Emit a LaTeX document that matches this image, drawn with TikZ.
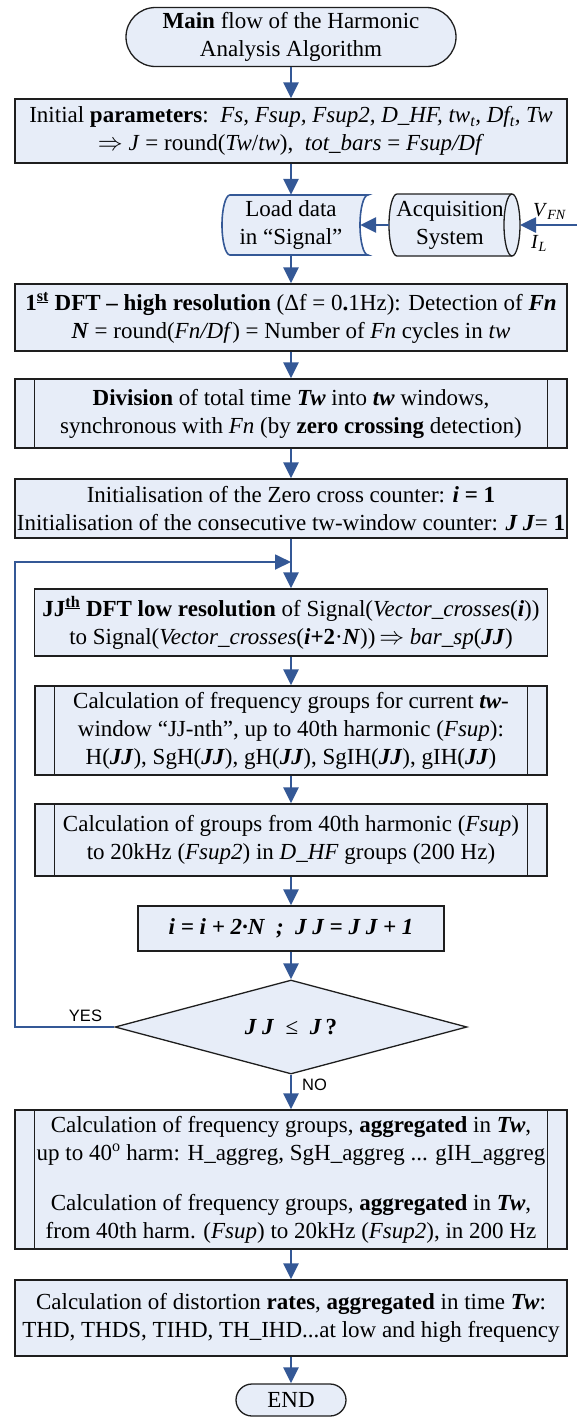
\documentclass[tikz,border=0pt]{standalone}
\usepackage{fontspec}
\setmainfont{Liberation Serif}
\newfontfamily\lsans{Liberation Sans}
\usetikzlibrary{arrows.meta,shapes.geometric}
\definecolor{boxfill}{RGB}{231,237,248}
\definecolor{arrblue}{RGB}{52,88,150}
\definecolor{boxline}{RGB}{30,30,30}
\begin{document}
\begin{tikzpicture}[x=1pt,y=1pt,
  txt/.style={font=\fontsize{23}{28}\selectfont, align=center, inner sep=0pt},
  box/.style={txt, draw=boxline, line width=1.3pt, fill=boxfill},
  arr/.style={draw=arrblue, line width=2.6pt, -{Triangle[length=16pt,width=15pt]}},
  loopline/.style={draw=arrblue, line width=1.8pt, -{Triangle[length=16pt,width=15pt]}},
  lbl/.style={font=\lsans\fontsize{16.5}{18}\selectfont, inner sep=0pt},
  side/.style={font=\fontsize{20}{22}\selectfont, inner sep=0pt}
]
\useasboundingbox (0,0) rectangle (577,-1417);

% shapes drawn by hand
\draw[draw=arrblue,line width=1.6pt,fill=boxfill] (230,-195) -- (368,-195)
  arc[start angle=90,end angle=270,x radius=8,y radius=30] -- (230,-255)
  arc[start angle=270,end angle=90,x radius=8,y radius=30] -- cycle;
\draw[draw=boxline,line width=1.3pt,fill=boxfill] (397,-194) -- (512,-194)
  arc[start angle=90,end angle=-90,x radius=8,y radius=31] -- (397,-256)
  arc[start angle=270,end angle=90,x radius=8,y radius=31] -- cycle;
\draw[draw=boxline,line width=1.3pt] (512,-194) arc[start angle=90,end angle=270,x radius=8,y radius=31];

% nodes
\node[box, rounded corners=29.5pt, minimum width=330pt, minimum height=59pt] (term) at (291,-37)
  {\textbf{Main} flow of the Harmonic\\ Analysis Algorithm};
\node[box, minimum width=552pt, minimum height=64pt] (init) at (291,-131)
  {Initial \textbf{parameters}:\ \ \textit{Fs, Fsup, Fsup2, D\_HF, tw\textsubscript{t}, Df\textsubscript{t}, Tw}\\
   $\Rightarrow$ \textit{J} = round(\textit{Tw}/\textit{tw}),\ \ \textit{tot\_bars} = \textit{Fsup/Df}};
\node[txt, minimum width=138pt, minimum height=60pt] (load) at (291,-225) {Load data\\ in “Signal”};
\node[txt, minimum width=122pt, minimum height=62pt] (acq) at (450,-225) {Acquisition\\ System};
\coordinate (inp) at (577,-225);
\coordinate (acqR) at (520,-225);
\node[side, anchor=base west] (vfn) at (533,-216) {\textit{V}\textsubscript{\textit{FN}}};
\node[side, anchor=base west] (il) at (531,-248) {\textit{I}\textsubscript{\textit{L}}};

\node[box, minimum width=552pt, minimum height=67pt] (dft1) at (291,-317.5)
  {\textbf{1\textsuperscript{\underline{st}} DFT – high resolution} (Δf = 0\textbf{.}1Hz): Detection of \textbf{\textit{Fn}}\\
   \textbf{\textit{N}} = round(\textit{Fn/Df}) = Number of \textit{Fn} cycles in \textit{tw}};
\node[box, minimum width=552pt, minimum height=69pt] (div) at (291,-413.5)
  {\textbf{Division} of total time \textbf{\textit{Tw}} into \textbf{\textit{tw}} windows,\\
   synchronous with \textit{Fn} (by \textbf{zero crossing} detection)};
\node[box, minimum width=552pt, minimum height=59pt] (initc) at (291,-508.5)
  {Initialisation of the Zero cross counter: \textbf{\textit{i} = 1}\\
   Initialisation of the consecutive tw-window counter: \textbf{\textit{J J}}= \textbf{1}};
\coordinate (jn) at (291,-562);
\node[box, minimum width=513pt, minimum height=67pt] (jj) at (291,-622.5)
  {\textbf{JJ\textsuperscript{\underline{th}} DFT low resolution} of Signal(\textit{Vector\_crosses}(\textbf{\textit{i}}))\\
   to Signal(\textit{Vector\_crosses}(\textbf{\textit{i}+2}·\textbf{\textit{N}}))\,$\Rightarrow$ \textit{bar\_sp}(\textbf{\textit{JJ}})};
\node[box, minimum width=512pt, minimum height=89pt] (calcf) at (291,-730.5)
  {Calculation of frequency groups for current \textbf{\textit{tw}}-\\
   window “JJ-nth”, up to 40th harmonic (\textit{Fsup}):\\
   H(\textbf{\textit{JJ}}), SgH(\textbf{\textit{JJ}}), gH(\textbf{\textit{JJ}}), SgIH(\textbf{\textit{JJ}}), gIH(\textbf{\textit{JJ}})};
\node[box, minimum width=512pt, minimum height=72pt] (calcg) at (291,-840)
  {Calculation of groups from 40th harmonic (\textit{Fsup})\\
   to 20kHz (\textit{Fsup2}) in \textit{D\_HF} groups (200 Hz)};
\node[box, minimum width=306pt, minimum height=45pt] (incr) at (291,-928.5)
  {\textbf{\textit{i = i + 2·N\ \ ;\ \ J J = J J + 1}}};
\node[box, shape=diamond, aspect=3.75, minimum width=352pt, minimum height=94pt] (dec) at (291,-1027)
  {\textbf{\textit{J J}}\ \ ≤\ \ \textbf{\textit{J}}\,\textbf{?}};
\node[box, minimum width=552pt, minimum height=139pt] (agg) at (291,-1179.5)
  {Calculation of frequency groups, \textbf{aggregated} in \textbf{\textit{Tw}},\\
   up to 40\textsuperscript{o} harm: H\_aggreg, SgH\_aggreg ... gIH\_aggreg\\[22pt]
   Calculation of frequency groups, \textbf{aggregated} in \textbf{\textit{Tw}},\\
   from 40th harm. (\textit{Fsup}) to 20kHz (\textit{Fsup2}), in 200 Hz};
\node[box, minimum width=552pt, minimum height=76pt] (dist) at (291,-1318)
  {Calculation of distortion \textbf{rates}, \textbf{aggregated} in time \textbf{\textit{Tw}}:\\
   THD, THDS, TIHD, TH\_IHD...at low and high frequency};
\node[box, rounded corners=16pt, minimum width=110pt, minimum height=32pt] (endn) at (291,-1400) {END};

% predefined process side bars
\foreach \n/\d in {div/20, calcf/20, calcg/20, agg/20}{
  \draw[boxline,line width=1.3pt] ([xshift=\d pt]\n.north west) -- ([xshift=\d pt]\n.south west);
  \draw[boxline,line width=1.3pt] ([xshift=-\d pt]\n.north east) -- ([xshift=-\d pt]\n.south east);
}

% connectors
\draw[arr] (term.south) -- (init.north);
\draw[arr] (init.south) -- (load.north);
\draw[arr] (acq.west) -- (load.east);
\draw[arr] (inp) -- (acqR);
\draw[arr] (load.south) -- (dft1.north);
\draw[arr] (dft1.south) -- (div.north);
\draw[arr] (div.south) -- (initc.north);
\draw[arr] (initc.south) -- (jj.north);
\draw[arr] (jj.south) -- (calcf.north);
\draw[arr] (calcf.south) -- (calcg.north);
\draw[arr] (calcg.south) -- (incr.north);
\draw[arr] (incr.south) -- (dec.north);
\draw[loopline] (dec.west) -- (15,-1027) |- (jn);
\draw[arr] (dec.south) -- (agg.north);
\draw[arr] (agg.south) -- (dist.north);
\draw[arr] (dist.south) -- (endn.north);

\node[lbl, anchor=base] (yes) at (85.5,-1021) {YES};
\node[lbl, anchor=base west] (no) at (302,-1090) {NO};
\end{tikzpicture}
\end{document}
